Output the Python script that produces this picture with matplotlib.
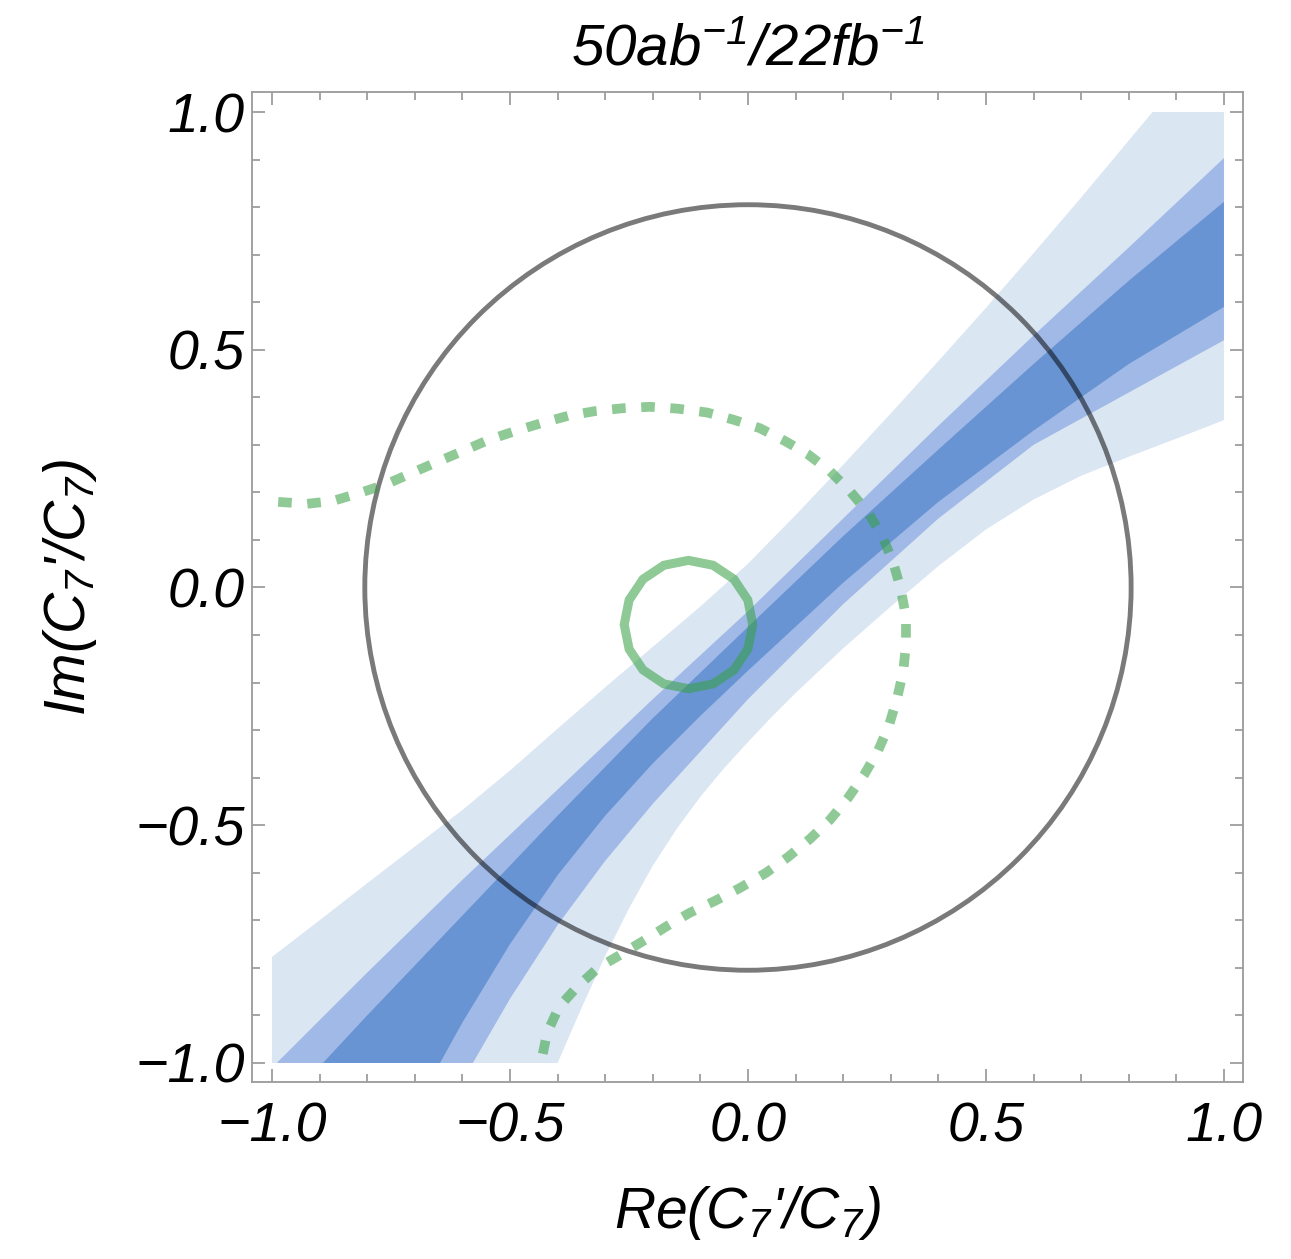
import numpy as np
import matplotlib
matplotlib.use("Agg")
import matplotlib.pyplot as plt
from matplotlib.patches import Circle, CirclePolygon
from matplotlib.ticker import MultipleLocator

plt.rcParams['font.family'] = ['Liberation Sans', 'DejaVu Sans']
plt.rcParams['font.style'] = 'italic'
plt.rcParams['mathtext.fontset'] = 'custom'
plt.rcParams['mathtext.rm'] = 'Liberation Sans:italic'
plt.rcParams['mathtext.it'] = 'Liberation Sans:italic'
plt.rcParams['mathtext.default'] = 'it'

# 3 sigma (light) band edges
light_up_x = [-1.0, -0.9, -0.8, -0.7, -0.6, -0.5, -0.4, -0.3, -0.2, -0.1, 0.0,
              0.1, 0.2, 0.3, 0.4, 0.5, 0.6, 0.7, 0.8, 0.85]
light_up_y = [-0.777, -0.70, -0.622, -0.545, -0.468, -0.385, -0.297, -0.21, -0.125, -0.04, 0.05,
              0.152, 0.258, 0.366, 0.476, 0.588, 0.703, 0.82, 0.94, 1.0]
light_lo_x = [-0.40, -0.35, -0.3, -0.25, -0.2, -0.15, -0.1, -0.05, 0.0, 0.05, 0.1,
              0.2, 0.3, 0.4, 0.5, 0.6, 0.7, 0.8, 0.9, 1.0]
light_lo_y = [-1.0, -0.885, -0.775, -0.675, -0.585, -0.508, -0.44, -0.38, -0.325, -0.272, -0.222,
              -0.128, -0.04, 0.045, 0.122, 0.185, 0.235, 0.275, 0.313, 0.352]

# 2 sigma (medium) band edges
mid_up_x = [-0.99, -0.8, -0.6, -0.4, -0.2, 0.0, 0.2, 0.4, 0.6, 0.8, 1.0]
mid_up_y = [-1.0, -0.81, -0.615, -0.425, -0.235, -0.05, 0.145, 0.34, 0.53, 0.715, 0.903]
mid_lo_x = [-0.578, -0.5, -0.4, -0.3, -0.2, -0.1, 0.0, 0.2, 0.4, 0.6, 0.8, 1.0]
mid_lo_y = [-1.0, -0.865, -0.71, -0.575, -0.455, -0.345, -0.235, -0.035, 0.145, 0.30, 0.41, 0.52]

# 1 sigma (dark) band edges
dark_up_x = [-0.893, -0.8, -0.6, -0.4, -0.2, 0.0, 0.2, 0.4, 0.6, 0.8, 1.0]
dark_up_y = [-1.0, -0.90, -0.69, -0.48, -0.275, -0.083, 0.108, 0.29, 0.47, 0.645, 0.811]
dark_lo_x = [-0.647, -0.6, -0.5, -0.4, -0.3, -0.2, -0.1, 0.0, 0.2, 0.4, 0.6, 0.8, 1.0]
dark_lo_y = [-1.0, -0.915, -0.75, -0.605, -0.48, -0.37, -0.27, -0.175, 0.01, 0.18, 0.33, 0.47, 0.59]

# dotted green contour
dot_x = [-0.987, -0.926, -0.872, -0.815, -0.758, -0.706, -0.653, -0.599, -0.546, -0.489,
         -0.433, -0.378, -0.321, -0.263, -0.206, -0.147, -0.086, -0.031, 0.025, 0.078,
         0.126, 0.172, 0.214, 0.252, 0.282, 0.305, 0.321, 0.332, 0.332, 0.326,
         0.313, 0.296, 0.273, 0.244, 0.210, 0.172, 0.130, 0.084, 0.038, -0.017,
         -0.069, -0.122, -0.170, -0.216, -0.269, -0.315, -0.359, -0.397, -0.422, -0.433]
dot_y = [0.180, 0.176, 0.182, 0.199, 0.218, 0.241, 0.264, 0.287, 0.310, 0.329,
         0.346, 0.361, 0.371, 0.377, 0.380, 0.376, 0.368, 0.353, 0.335, 0.308,
         0.280, 0.245, 0.203, 0.158, 0.108, 0.053, -0.003, -0.062, -0.121, -0.178,
         -0.234, -0.291, -0.344, -0.394, -0.443, -0.489, -0.529, -0.567, -0.600, -0.632,
         -0.659, -0.684, -0.712, -0.741, -0.773, -0.800, -0.840, -0.882, -0.937, -0.990]

# circles: bound radius and small solid contour
bound_r = 0.805
small_c = (-0.125, -0.078)
small_r = 0.135

c_light = '#dbe6f3'
c_mid = '#a0b9e6'
c_dark = '#6994d4'
c_green = '#33a040'

fig = plt.figure(figsize=(12.91, 12.59), dpi=100)
ax = fig.add_axes([0.1952, 0.1406, 0.7676, 0.7863])


def band(up_x, up_y, lo_x, lo_y):
    # upper edge left->right, down the right frame, lower edge back
    xs = list(up_x) + list(lo_x[::-1])
    ys = list(up_y) + list(lo_y[::-1])
    return xs, ys


# light band also touches the top frame and the left frame
xs, ys = band(light_up_x + [1.0], light_up_y + [1.0], light_lo_x, light_lo_y)
ax.fill(xs + [-1.0], ys + [-1.0], color=c_light, lw=0, zorder=1)

xs, ys = band(mid_up_x, mid_up_y, mid_lo_x, mid_lo_y)
ax.fill(xs, ys, color=c_mid, lw=0, zorder=2)

xs, ys = band(dark_up_x, dark_up_y, dark_lo_x, dark_lo_y)
ax.fill(xs, ys, color=c_dark, lw=0, zorder=3)

ax.add_patch(Circle((0, 0), bound_r, fill=False, ec='black', alpha=0.52, lw=3.5, zorder=4))
ax.add_patch(CirclePolygon(small_c, small_r, resolution=16, fill=False, ec=c_green,
                           alpha=0.55, lw=6.5, zorder=5))
ax.plot(dot_x, dot_y, color=c_green, alpha=0.55, lw=7, ls=(0, (1.4, 1.6)),
        solid_capstyle='butt', dash_capstyle='butt', zorder=5)

ax.set_xlim(-1.042, 1.040)
ax.set_ylim(-1.040, 1.042)

ax.xaxis.set_major_locator(MultipleLocator(0.5))
ax.yaxis.set_major_locator(MultipleLocator(0.5))
ax.xaxis.set_minor_locator(MultipleLocator(0.1))
ax.yaxis.set_minor_locator(MultipleLocator(0.1))
ax.tick_params(which='both', direction='in', top=True, right=True, color='#8c8c8c', width=1.1)
ax.tick_params(which='major', length=9.5, labelsize=40)
ax.tick_params(which='minor', length=5.5)
ax.tick_params(axis='x', pad=14)
ax.tick_params(axis='y', pad=5)
for s in ax.spines.values():
    s.set_color('#9a9a9a')
    s.set_linewidth(1.3)

ax.set_xlabel("Re(C$_7$'/C$_7$)", fontsize=41, labelpad=22)
ax.set_ylabel("Im(C$_7$'/C$_7$)", fontsize=41, labelpad=26)
ax.set_title("50ab$^{-1}$/22fb$^{-1}$", fontsize=42, pad=20)

fig.savefig("out.png", dpi=100)
